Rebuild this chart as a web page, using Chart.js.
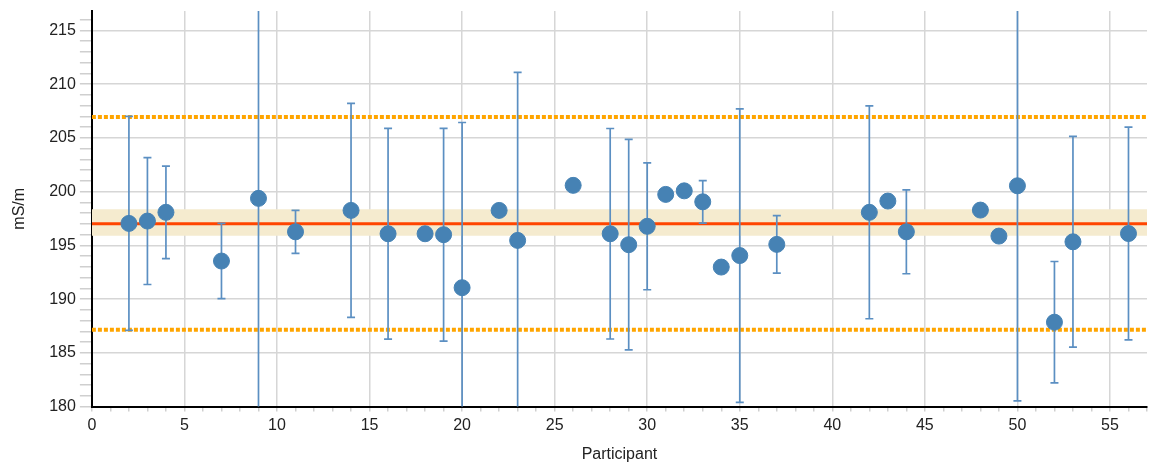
<!DOCTYPE html>
<html lang="en">
<head>
    <meta charset="UTF-8">
    <title>Participant results</title>
    <script src="https://cdn.jsdelivr.net/npm/chart.js"></script>
    <style>
        html, body {
            margin: 0;
            padding: 0;
            background: #ffffff;
        }
        #wrap {
            width: 1149px;
            height: 466px;
        }
    </style>
</head>
<body>
    <div id="wrap"><canvas id="chart"></canvas></div>

    <script>
        // participant numbers, measured values and uncertainty (null = no bar)
        const participants = [2, 3, 4, 7, 9, 11, 14, 16, 18, 19, 20, 22, 23, 26, 28, 29, 30, 31, 32, 33, 34, 35, 37, 42, 43, 44, 48, 49, 50, 52, 53, 56];
        const values = [197.04, 197.26, 198.07, 193.54, 199.37, 196.26, 198.25, 196.08, 196.08, 195.99, 191.06, 198.25, 195.46, 200.58, 196.08, 195.06, 196.77, 199.74, 200.07, 199.05, 192.98, 194.05, 195.09, 198.07, 199.12, 196.26, 198.28, 195.86, 200.54, 187.85, 195.33, 196.1];
        const errors = [9.95, 5.9, 4.3, 3.5, 40, 2.0, 9.95, 9.8, null, 9.9, 15.37, null, 15.64, null, 9.79, 9.79, 5.9, null, null, 1.98, null, 13.65, 2.68, 9.9, null, 3.9, null, null, 20.0, 5.65, 9.8, 9.9];

        // reference value, its uncertainty band and the limits
        const refValue = 197.0;
        const refBand = [195.9, 198.35];
        const limits = [187.15, 206.95];
        const xRange = [0, 57];

        const points = participants.map((p, i) => ({ x: p, y: values[i] }));
        const hline = (y) => [{ x: xRange[0], y: y }, { x: xRange[1], y: y }];

        const errorBars = {
            id: 'errorBars',
            beforeDatasetDraw(chart, args) {
                if (args.index !== 0) return;
                const { ctx, chartArea, scales } = chart;
                ctx.save();
                ctx.beginPath();
                ctx.rect(chartArea.left, chartArea.top, chartArea.right - chartArea.left, chartArea.bottom - chartArea.top);
                ctx.clip();
                ctx.strokeStyle = '#5b8fc2';
                ctx.lineWidth = 1.7;
                participants.forEach((p, i) => {
                    const e = errors[i];
                    if (e === null) return;
                    const x = scales.x.getPixelForValue(p);
                    const yTop = scales.y.getPixelForValue(values[i] + e);
                    const yBot = scales.y.getPixelForValue(values[i] - e);
                    ctx.beginPath();
                    ctx.moveTo(x, yTop);
                    ctx.lineTo(x, yBot);
                    ctx.moveTo(x - 4, yTop);
                    ctx.lineTo(x + 4, yTop);
                    ctx.moveTo(x - 4, yBot);
                    ctx.lineTo(x + 4, yBot);
                    ctx.stroke();
                });
                ctx.restore();
            }
        };

        const gridColor = (c) => (c.tick && c.tick.value % 5 === 0) ? '#d6d6d6' : 'rgba(0,0,0,0)';
        const font = { family: "'Liberation Sans', Arial, sans-serif", size: 16 };

        new Chart(document.getElementById('chart'), {
            type: 'scatter',
            data: {
                datasets: [
                    {
                        label: 'Participants',
                        data: points,
                        backgroundColor: '#4682b4',
                        borderColor: '#4682b4',
                        pointRadius: 8,
                        pointHoverRadius: 8
                    },
                    {
                        label: 'Reference',
                        data: hline(refValue),
                        showLine: true,
                        borderColor: '#ff4500',
                        borderWidth: 3,
                        pointRadius: 0
                    },
                    {
                        label: 'Upper limit',
                        data: hline(limits[1]),
                        showLine: true,
                        borderColor: '#ffa500',
                        borderWidth: 4,
                        borderDash: [4, 2],
                        pointRadius: 0
                    },
                    {
                        label: 'Lower limit',
                        data: hline(limits[0]),
                        showLine: true,
                        borderColor: '#ffa500',
                        borderWidth: 4,
                        borderDash: [4, 2],
                        pointRadius: 0
                    },
                    {
                        label: 'Band upper',
                        data: hline(refBand[1]),
                        showLine: true,
                        borderWidth: 0,
                        borderColor: 'rgba(0,0,0,0)',
                        backgroundColor: '#f5ebcf',
                        fill: 5,
                        pointRadius: 0
                    },
                    {
                        label: 'Band lower',
                        data: hline(refBand[0]),
                        showLine: true,
                        borderWidth: 0,
                        borderColor: 'rgba(0,0,0,0)',
                        pointRadius: 0
                    }
                ]
            },
            options: {
                responsive: true,
                maintainAspectRatio: false,
                animation: false,
                layout: { autoPadding: false, padding: { top: 11, right: 2, left: 6, bottom: -2 } },
                plugins: {
                    legend: { display: false },
                    tooltip: { enabled: false }
                },
                scales: {
                    x: {
                        type: 'linear',
                        min: xRange[0],
                        max: xRange[1],
                        afterFit: (s) => { s.paddingRight = 0; },
                        title: { display: true, text: 'Participant', color: '#222', font: font, padding: { top: 6 } },
                        ticks: {
                            stepSize: 1,
                            autoSkip: false,
                            maxRotation: 0,
                            color: '#222',
                            font: font,
                            padding: 4,
                            callback: (v) => v % 5 === 0 ? v : ''
                        },
                        grid: { color: gridColor, tickColor: '#cfcfcf', lineWidth: 1.5, tickLength: 5 },
                        border: { color: '#000', width: 2 }
                    },
                    y: {
                        min: 180,
                        max: 216.8,
                        afterFit: (s) => { s.paddingTop = 0; },
                        title: { display: true, text: 'mS/m', color: '#222', font: font, padding: { top: 4, bottom: 16 } },
                        ticks: {
                            stepSize: 1,
                            autoSkip: false,
                            includeBounds: false,
                            color: '#222',
                            font: font,
                            padding: 4,
                            callback: (v) => v % 5 === 0 ? v : ''
                        },
                        grid: { color: gridColor, tickColor: '#cfcfcf', lineWidth: 1.5, tickLength: 12 },
                        border: { color: '#000', width: 2 }
                    }
                }
            },
            plugins: [errorBars]
        });
    </script>
</body>
</html>
